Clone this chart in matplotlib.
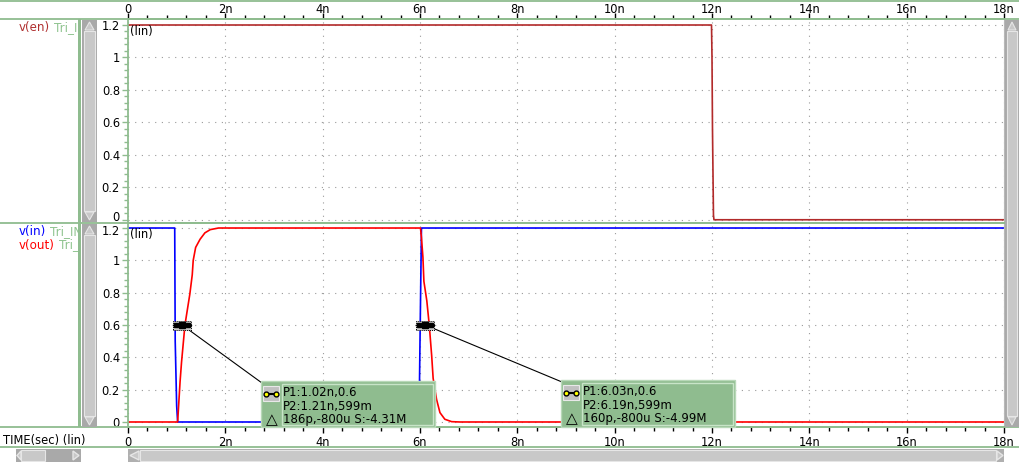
import matplotlib.pyplot as plt
from matplotlib.patches import Rectangle, Polygon
from matplotlib.ticker import MultipleLocator, FuncFormatter
from matplotlib.transforms import Bbox, TransformedBbox, ScaledTranslation

# waveform data (time in ns, volts)
en_t = [0, 11.99, 12.0, 12.01, 12.03, 12.04, 18]
en_v = [1.2, 1.2, 1.0, 0.56, 0.03, 0.0, 0.0]

in_t = [0, 0.96, 0.97, 1.0, 1.02, 5.98, 6.0, 6.03, 18]
in_v = [1.2, 1.2, 0.5, 0.1, 0.0, 0.0, 0.5, 1.2, 1.2]

out_t = [0, 1.02, 1.07, 1.10, 1.17, 1.27, 1.32, 1.34, 1.39, 1.48, 1.58, 1.69, 1.86,
         6.01, 6.03, 6.06, 6.08, 6.14, 6.19, 6.24, 6.27, 6.34, 6.41, 6.51, 6.65, 6.82, 18]
out_v = [0, 0, 0.25, 0.37, 0.60, 0.79, 0.91, 1.0, 1.08, 1.13, 1.17, 1.19, 1.2,
         1.2, 1.14, 1.02, 0.87, 0.75, 0.60, 0.41, 0.27, 0.14, 0.058, 0.017, 0.002, 0, 0]

# cursor readouts
cursor_p1 = [(1.02, 0.6), (6.03, 0.6)]
cursor_p2 = [(1.21, 0.599), (6.19, 0.599)]
cursor_txt = [["P1:1.02n,0.6", "P2:1.21n,599m", "186p,-800u S:-4.31M"],
              ["P1:6.03n,0.6", "P2:6.19n,599m", "160p,-800u S:-4.99M"]]

W, H = 1020, 462
GREEN = '#8fbc8f'
FS = 8.3
plt.rcParams['font.family'] = 'DejaVu Sans'

fig = plt.figure(figsize=(W / 100, H / 100), dpi=100)


def fbox(x0, y0, x1, y1):
    # image pixel box -> figure fraction rect
    return [x0 / W, 1 - y1 / H, (x1 - x0) / W, (y1 - y0) / H]


def frect(x0, y0, x1, y1, **kw):
    r = Rectangle((x0 / W, 1 - y1 / H), (x1 - x0) / W, (y1 - y0) / H,
                  transform=fig.transFigure, **kw)
    fig.patches.append(r)
    return r


def fline(x0, y0, x1, y1, **kw):
    fig.add_artist(plt.Line2D([x0 / W, x1 / W], [1 - y0 / H, 1 - y1 / H],
                              transform=fig.transFigure, **kw))


def fpoly(pts, **kw):
    fig.patches.append(Polygon([(x / W, 1 - y / H) for x, y in pts],
                               transform=fig.transFigure, **kw))


ax1 = fig.add_axes(fbox(128, 19, 1004, 223))
ax2 = fig.add_axes(fbox(128, 223, 1004, 427), sharex=ax1)

ax1.plot(en_t, en_v, color='#b22a2a', lw=1.2)
ax2.plot(in_t, in_v, color='#0000ff', lw=1.2)
ax2.plot(out_t, out_v, color='#ff0000', lw=1.2)

fmt_x = FuncFormatter(lambda v, p: '0' if v == 0 else f'{v:g}n')
fmt_y = FuncFormatter(lambda v, p: f'{v:g}')

for ax, ylo, yhi in [(ax1, -0.02, 1.237), (ax2, -0.031, 1.231)]:
    ax.set_xlim(0, 18)
    ax.set_ylim(ylo, yhi)
    ax.xaxis.set_major_locator(MultipleLocator(2))
    ax.xaxis.set_minor_locator(MultipleLocator(0.4))
    ax.yaxis.set_major_locator(MultipleLocator(0.2))
    ax.yaxis.set_minor_locator(MultipleLocator(0.04))
    ax.xaxis.set_major_formatter(fmt_x)
    ax.yaxis.set_major_formatter(fmt_y)
    ax.grid(True, which='major', color='#9a9a9a', lw=0.8, linestyle=(0, (1, 5)))
    ax.tick_params(axis='y', which='major', length=4.3, width=1, color=GREEN,
                   labelsize=FS, pad=1.5)
    ax.tick_params(axis='y', which='minor', length=2.9, width=1, color=GREEN)
    ax.tick_params(axis='x', which='major', length=4.3, width=1, color='black',
                   labelsize=FS)
    ax.tick_params(axis='x', which='minor', length=2.9, width=1, color='black')
    for s in ['left', 'top', 'bottom']:
        ax.spines[s].set_color(GREEN)
        ax.spines[s].set_linewidth(1.3)
    ax.spines['right'].set_color('#b8b8b8')
    ax.text(0.002, 1.2, '(lin)', transform=ax.get_yaxis_transform(),
            va='top', ha='left', fontsize=FS)

ax1.tick_params(axis='x', which='both', top=True, bottom=False,
                labeltop=True, labelbottom=False)
ax1.tick_params(axis='x', which='major', pad=-2)
ax2.tick_params(axis='x', which='both', top=False, bottom=True,
                labeltop=False, labelbottom=True)
ax2.tick_params(axis='x', which='major', pad=2.5)

# nudge the two crowded labels at the panel join apart
fig.canvas.draw()
for tk in ax1.yaxis.get_major_ticks():
    if abs(tk.get_loc()) < 1e-9:
        tk.label1.set_transform(tk.label1.get_transform()
                                + ScaledTranslation(0, 2.5 / 72, fig.dpi_scale_trans))
for tk in ax2.yaxis.get_major_ticks():
    if abs(tk.get_loc() - 1.2) < 1e-9:
        tk.label1.set_transform(tk.label1.get_transform()
                                + ScaledTranslation(0, -1.5 / 72, fig.dpi_scale_trans))

# frame lines
for y in [0.5, 19, 223, 427, 446.5]:
    fline(0, y, W, y, color=GREEN, lw=1.3, zorder=3)
frect(78, 19, 81, 427, facecolor=GREEN, edgecolor='none', zorder=3)

# signal names, instance names clipped at the green bar
clip = TransformedBbox(Bbox.from_extents(0, 0, 78 / W, 1), fig.transFigure)
renderer = fig.canvas.get_renderer()
names = [("v(en)", '#b03030', "Tri_I", 28), ("v(in)", '#0000ff', "Tri_IN", 231.5),
         ("v(out)", '#ff0000', "Tri_", 245)]
for nm, col, inst, yy in names:
    t0 = fig.text(19 / W, 1 - yy / H, nm, color=col, fontsize=8.6, va='center')
    x1 = t0.get_window_extent(renderer).x1
    t = fig.text((x1 + 4) / W, 1 - yy / H, inst, color='#90c490',
                 fontsize=8.6, va='center')
    t.set_clip_box(clip)
    t.set_clip_on(True)

fig.text(3 / W, 1 - 440.5 / H, "TIME(sec) (lin)", fontsize=FS, va='center')


# scrollbars
def vscroll(x0, x1, y0, y1):
    frect(x0, y0, x1, y1, facecolor='#a9a9a9', edgecolor='none', zorder=3)
    frect(x0 + 2, y0 + 11, x1 - 2, y1 - 11, facecolor='#c8c8c8',
          edgecolor='#e6e6e6', lw=0.8, zorder=4)
    xm = (x0 + x1) / 2
    fpoly([(xm, y0 + 2), (x0 + 3, y0 + 10), (x1 - 3, y0 + 10)],
          facecolor='#c8c8c8', edgecolor='#e6e6e6', lw=0.8, zorder=4)
    fpoly([(xm, y1 - 2), (x0 + 3, y1 - 10), (x1 - 3, y1 - 10)],
          facecolor='#c8c8c8', edgecolor='#e6e6e6', lw=0.8, zorder=4)


vscroll(82, 97, 20, 222)
vscroll(82, 97, 224, 427)
vscroll(1005, 1019, 20, 427)

frect(16, 449, 81, 462, facecolor='#a9a9a9', edgecolor='none', zorder=3)
frect(21, 450, 45, 461, facecolor='#c8c8c8', edgecolor='#e6e6e6', lw=0.8, zorder=4)
fpoly([(17, 455.5), (21, 451), (21, 460)], facecolor='#c8c8c8', edgecolor='#e6e6e6', zorder=4)
fpoly([(79, 455.5), (73, 451), (73, 460)], facecolor='#c8c8c8', edgecolor='#e6e6e6', zorder=4)
frect(128, 449, 1004, 462, facecolor='#b0b0b0', edgecolor='none', zorder=3)
frect(140, 450, 996, 461, facecolor='#c8c8c8', edgecolor='#e6e6e6', lw=0.8, zorder=4)
fpoly([(130, 455.5), (139, 451), (139, 460)], facecolor='#c8c8c8', edgecolor='#e6e6e6', zorder=4)
fpoly([(1003, 455.5), (997, 451), (997, 460)], facecolor='#c8c8c8', edgecolor='#e6e6e6', zorder=4)

# cursor markers and readout boxes
box_x = [261, 561]
box_top = [381, 380]
for k in range(2):
    xm = (cursor_p1[k][0] + cursor_p2[k][0]) / 2
    ym = (cursor_p1[k][1] + cursor_p2[k][1]) / 2
    px, py = ax2.transData.transform((xm, ym))
    pyi = H - py  # image y
    bx, by = box_x[k], box_top[k]
    fline(px, pyi, bx + 1, by + 2, color='black', lw=0.8, zorder=5)
    frect(px - 9, pyi - 4.5, px + 9, pyi + 4.5, facecolor='#c8c8c8',
          edgecolor='black', lw=0.7, linestyle=(0, (1, 1)), zorder=6)
    for dx, ms in [(-6, 3.5), (0, 4.5), (6, 3.5)]:
        fig.add_artist(plt.Line2D([(px + dx) / W], [1 - pyi / H], marker='s',
                                  ms=ms, color='black', transform=fig.transFigure,
                                  zorder=7))
    fig.add_artist(plt.Line2D([(px - 9) / W, (px + 9) / W], [1 - pyi / H] * 2,
                              color='black', lw=1, transform=fig.transFigure, zorder=7))
    # readout box
    frect(bx, by, bx + 174, 427, facecolor=GREEN, edgecolor='#b8d8b8', lw=1, zorder=6)
    frect(bx + 21, by + 3, bx + 172, 425, facecolor='none', edgecolor='#c8e4c8',
          lw=1, zorder=7)
    frect(bx + 2, by + 5, bx + 18, by + 20, facecolor='#c0c0c0', edgecolor='#e8e8e8',
          lw=0.8, zorder=7)
    fig.add_artist(plt.Line2D([(bx + 5) / W, (bx + 15) / W], [1 - (by + 12.5) / H] * 2,
                              color='black', lw=1.5, marker='o', ms=3.5, mfc='#ffff00',
                              mec='black', transform=fig.transFigure, zorder=8))
    fig.text((bx + 11) / W, 1 - (by + 39) / H, '\u25b3', fontsize=11,
             ha='center', va='center', zorder=8)
    for j, line in enumerate(cursor_txt[k]):
        fig.text((bx + 22) / W, 1 - (by + 11.5 + 13.7 * j) / H, line, fontsize=8.5,
                 va='center', ha='left', zorder=8)

fig.savefig('out.png', dpi=100)
